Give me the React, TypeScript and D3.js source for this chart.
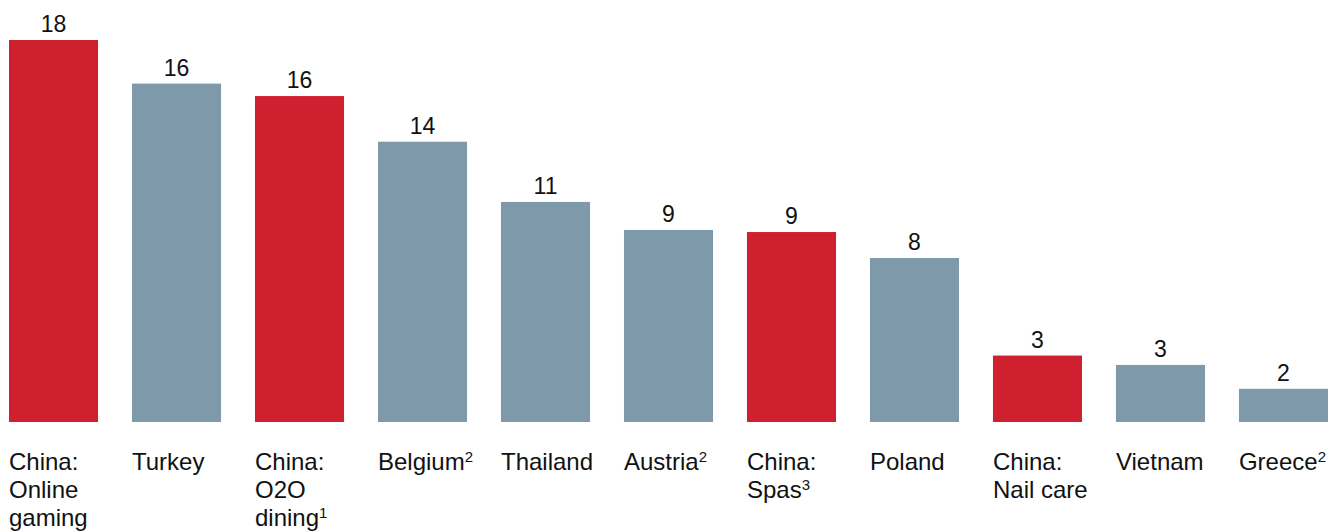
import React from "react";
import * as d3 from "d3";

const categories = [
  "China: Online gaming",
  "Turkey",
  "China: O2O dining",
  "Belgium",
  "Thailand",
  "Austria",
  "China: Spas",
  "Poland",
  "China: Nail care",
  "Vietnam",
  "Greece",
];
const labelLines: string[][] = [
  ["China:", "Online", "gaming"],
  ["Turkey"],
  ["China:", "O2O", "dining"],
  ["Belgium"],
  ["Thailand"],
  ["Austria"],
  ["China:", "Spas"],
  ["Poland"],
  ["China:", "Nail care"],
  ["Vietnam"],
  ["Greece"],
];
const footnotes = ["", "", "1", "2", "", "2", "3", "", "", "", "2"];
const values = [18.4, 16.3, 15.7, 13.5, 10.6, 9.25, 9.15, 7.9, 3.2, 2.75, 1.6];
const valueLabels = ["18", "16", "16", "14", "11", "9", "9", "8", "3", "3", "2"];
const isChina = [true, false, true, false, false, false, true, false, true, false, false];

const W = 1344;
const H = 531;
const RED = "#CE202F";
const GRAY = "#7E9AAA";
const FONT = "'Liberation Sans', Arial, sans-serif";

export default function App() {
  const x = d3.scaleBand<string>().domain(categories).range([9, 1328]).paddingInner(0.276).paddingOuter(0);
  const baseline = 422;
  const y = d3.scaleLinear().domain([0, 18.4]).range([baseline, 40]);

  return (
    <svg width={W} height={H} style={{ position: "absolute", left: 0, top: 0, background: "#fff" }} fontFamily={FONT}>
      {categories.map((c, i) => {
        const x0 = x(c)!;
        const bw = x.bandwidth();
        const yt = y(values[i]);
        const lines = labelLines[i];
        return (
          <g key={c}>
            <rect x={x0} y={yt} width={bw} height={baseline - yt} fill={isChina[i] ? RED : GRAY} />
            <text x={x0 + bw / 2} y={yt - 8} textAnchor="middle" fontSize={23} fill="#111">
              {valueLabels[i]}
            </text>
            <text x={x0} y={470} fontSize={24} fill="#111">
              {lines.map((ln, j) => (
                <tspan key={j} x={x0} dy={j === 0 ? 0 : 28}>
                  {ln}
                  {j === lines.length - 1 && footnotes[i] ? (
                    <tspan fontSize={15} dy={-8}>{footnotes[i]}</tspan>
                  ) : null}
                </tspan>
              ))}
            </text>
          </g>
        );
      })}
    </svg>
  );
}
